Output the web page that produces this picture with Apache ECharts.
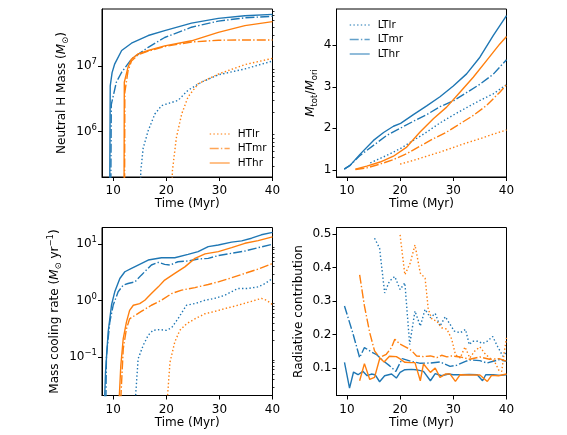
<!DOCTYPE html>
<html>
<head>
<meta charset="utf-8">
<script src="https://cdn.jsdelivr.net/npm/echarts@6/dist/echarts.min.js"></script>
<style>
  html, body { margin: 0; padding: 0; background: #fff; }
  #chart { width: 567px; height: 435px; }
</style>
</head>
<body>
<div id="chart"></div>
<script>
// neutral H mass (Msun) vs time (Myr)
const massLTlr = [[15.1, 1e5], [15.2, 2.5e5], [15.65, 5.6e5], [16.6, 1.04e6], [17.85, 1.86e6], [19.1, 2.5e6], [20.7, 2.75e6], [22.2, 3.0e6], [24.1, 4.3e6], [26.6, 5.7e6], [29.8, 7.4e6], [34.8, 9.1e6], [40, 1.2e7]];
const massLTmr = [[9.55, 1e5], [9.65, 2.6e6], [10.6, 5.7e6], [11.6, 8.1e6], [13.45, 1.29e7], [16.6, 1.95e7], [19.7, 2.75e7], [24.75, 3.95e7], [29.8, 4.9e7], [34.8, 5.5e7], [40, 5.8e7]];
const massLThr = [[9.35, 1e5], [9.45, 5.0e6], [9.8, 8.0e6], [10.3, 1.09e7], [11.6, 1.74e7], [13.45, 2.25e7], [16.6, 2.95e7], [19.7, 3.5e7], [24.75, 4.56e7], [29.8, 5.4e7], [34.8, 5.9e7], [40, 6.2e7]];
const massHTlr = [[21.05, 1e5], [21.15, 2.5e5], [21.9, 8.1e5], [22.9, 1.86e6], [24.1, 3.4e6], [26, 5.4e6], [29.8, 7.6e6], [34.8, 1.06e7], [40, 1.32e7]];
const massHTmr = [[12.15, 1e5], [12.2, 4.0e6], [12.8, 8.5e6], [13.45, 1.2e7], [14.7, 1.5e7], [16.6, 1.7e7], [19.7, 2.0e7], [24.75, 2.35e7], [29.8, 2.5e7], [34.8, 2.52e7], [40, 2.52e7]];
const massHThr = [[12.05, 1e5], [12.1, 5.7e6], [12.8, 9.7e6], [13.45, 1.29e7], [14.7, 1.55e7], [16.6, 1.74e7], [19.7, 2.05e7], [24.75, 2.45e7], [29.8, 3.3e7], [34.8, 4.17e7], [40, 4.8e7]];

// total / original mass
const ratioLTlr = [[14.4, 1.17], [17.5, 1.35], [20, 1.51], [22.5, 1.71], [25, 1.91], [27.5, 2.13], [30, 2.32], [32.5, 2.5], [35, 2.67], [37.5, 2.83], [40, 3.05]];
const ratioLTmr = [[9.5, 1.02], [10.6, 1.11], [12.5, 1.35], [15, 1.59], [17.5, 1.83], [20, 2.0], [22.5, 2.17], [25, 2.33], [27.5, 2.52], [30, 2.66], [32.5, 2.86], [35, 3.06], [37.5, 3.3], [40, 3.65]];
const ratioLThr = [[9.5, 1.02], [10.6, 1.11], [12.5, 1.38], [15, 1.71], [16.9, 1.9], [18.75, 2.05], [20.1, 2.12], [22.5, 2.33], [25, 2.54], [27.5, 2.76], [30, 3.02], [32.5, 3.31], [35, 3.71], [37.5, 4.23], [40, 4.71]];
const ratioHTlr = [[20, 1.14], [22.5, 1.23], [25, 1.33], [27.5, 1.43], [30, 1.54], [32.5, 1.65], [35, 1.75], [37.5, 1.86], [40, 1.96]];
const ratioHTmr = [[11.6, 1.01], [13.75, 1.05], [16.25, 1.14], [18.75, 1.25], [21.25, 1.39], [23.75, 1.57], [26.25, 1.75], [28.75, 1.91], [31.25, 2.11], [33.75, 2.31], [36.25, 2.55], [38.75, 2.87], [40, 3.05]];
const ratioHThr = [[11.6, 1.02], [13.75, 1.09], [16.25, 1.19], [18.75, 1.33], [21.25, 1.55], [23.75, 1.91], [26.25, 2.23], [28.75, 2.51], [31.25, 2.87], [33.75, 3.23], [36.25, 3.63], [38.75, 4.03], [40, 4.21]];

// mass cooling rate (Msun/yr)
const coolLTlr = [[14.0, 0.01], [14.7, 0.0933], [15.65, 0.162], [16.6, 0.245], [17.5, 0.299], [18.8, 0.309], [20, 0.299], [21, 0.331], [22.2, 0.479], [23.8, 0.832], [25.4, 0.891], [27.3, 1.02], [29.1, 1.10], [31, 1.25], [33.5, 1.65], [35.4, 1.65], [37.3, 1.76], [38.6, 2.02], [40, 2.48]];
const coolLTmr = [[8.6, 0.01], [8.74, 0.107], [9.37, 0.42], [10, 0.83], [10.94, 1.44], [11.9, 1.89], [12.8, 2.02], [14.1, 2.16], [15.3, 2.84], [17.2, 4.29], [18.5, 4.79], [19.7, 4.41], [20.7, 4.29], [22.2, 4.9], [24.1, 5.05], [26, 5.48], [27.9, 5.62], [29.8, 6.31], [32.3, 6.92], [34.8, 7.59], [37.3, 8.71], [40, 10.0]];
const coolLThr = [[8.3, 0.01], [8.56, 0.0537], [9.06, 0.279], [9.7, 0.85], [10.3, 1.44], [11.26, 2.48], [12.2, 3.26], [13.45, 3.74], [14.7, 4.29], [16.6, 5.25], [19.1, 5.78], [21.6, 5.78], [24.1, 6.61], [26, 7.41], [27.9, 9.08], [29.8, 9.72], [32.3, 10.9], [34.2, 11.5], [36.05, 12.8], [37.9, 14.7], [40, 16.2]];
const coolHTlr = [[20.0, 0.01], [20.7, 0.0813], [21.6, 0.186], [22.55, 0.299], [23.8, 0.389], [25.4, 0.479], [27.3, 0.589], [29.1, 0.646], [31, 0.724], [33.5, 0.832], [36.05, 0.977], [37.9, 1.10], [38.9, 1.02], [40, 0.851]];
const coolHTmr = [[11.3, 0.01], [11.9, 0.141], [12.5, 0.316], [13.1, 0.479], [14.1, 0.55], [15.3, 0.646], [17.2, 0.832], [19.1, 1.02], [21, 1.34], [22.9, 1.54], [25.4, 1.71], [27.9, 1.94], [29.8, 2.16], [32.3, 2.55], [34.8, 3.05], [37.3, 3.63], [40, 4.57]];
const coolHThr = [[11.0, 0.01], [11.44, 0.0708], [11.9, 0.214], [12.5, 0.417], [13.1, 0.676], [13.8, 0.832], [15.0, 0.891], [15.96, 1.02], [17.2, 1.34], [18.5, 1.76], [19.7, 2.32], [21.6, 3.05], [23.5, 3.98], [25.4, 5.62], [27.3, 6.76], [29.8, 7.41], [32.3, 8.71], [34.8, 10.4], [37.3, 11.6], [40, 13.5]];

// radiative contribution
const radLTlr = [[15.2, 0.487], [16.15, 0.457], [17.1, 0.324], [18, 0.359], [19, 0.373], [20, 0.334], [20.9, 0.354], [21.8, 0.17], [22.8, 0.27], [23.8, 0.225], [24.7, 0.275], [25.7, 0.25], [26.6, 0.263], [27.5, 0.225], [28.5, 0.253], [29.4, 0.23], [30.2, 0.21], [31.3, 0.205], [32.3, 0.215], [33, 0.17], [33.6, 0.18], [34.6, 0.18], [35.5, 0.173], [36.4, 0.18], [37.4, 0.194], [38.3, 0.165], [39.3, 0.135], [40, 0.148]];
const radLTmr = [[9.55, 0.285], [11.1, 0.205], [12.4, 0.131], [13.3, 0.161], [14.6, 0.148], [15.5, 0.141], [16.8, 0.122], [18, 0.107], [19.2, 0.09], [20.4, 0.128], [22.1, 0.12], [23.8, 0.114], [25.7, 0.115], [27.5, 0.118], [29.4, 0.105], [30.6, 0.108], [32.3, 0.12], [33.1, 0.124], [35, 0.122], [36.3, 0.115], [37.5, 0.12], [38.6, 0.125], [40, 0.12]];
const radLThr = [[9.55, 0.117], [10.5, 0.04], [11.25, 0.088], [12.1, 0.08], [13.0, 0.09], [13.8, 0.077], [14.6, 0.082], [15.3, 0.08], [16.15, 0.059], [17.1, 0.077], [18.4, 0.082], [19.3, 0.07], [20, 0.087], [20.9, 0.095], [22.1, 0.096], [23, 0.095], [24.4, 0.09], [25.7, 0.062], [26.6, 0.083], [27.8, 0.077], [29.1, 0.082], [30, 0.08], [31.5, 0.08], [33, 0.081], [34.5, 0.08], [35.5, 0.062], [36.1, 0.08], [37.5, 0.08], [38.75, 0.078], [40, 0.08]];
const radHTlr = [[20, 0.497], [20.9, 0.378], [21.9, 0.413], [22.8, 0.467], [23.8, 0.383], [24.7, 0.368], [25.3, 0.275], [26, 0.245], [26.9, 0.24], [27.8, 0.22], [28.8, 0.216], [29.7, 0.186], [30.4, 0.14], [31.3, 0.13], [32.2, 0.163], [33.1, 0.13], [34, 0.15], [35, 0.163], [35.9, 0.144], [36.8, 0.13], [37.7, 0.121], [38.6, 0.092], [39.1, 0.09], [39.6, 0.15], [40, 0.19]];
const radHTmr = [[12.4, 0.378], [13.3, 0.285], [14.3, 0.205], [15.2, 0.151], [16.15, 0.131], [17.4, 0.141], [18.4, 0.161], [19.0, 0.186], [20, 0.171], [21.25, 0.161], [22.2, 0.151], [23.1, 0.136], [24.4, 0.134], [25.7, 0.136], [26.9, 0.131], [27.8, 0.138], [28.8, 0.133], [29.7, 0.136], [31.3, 0.133], [33.1, 0.126], [35, 0.133], [36.8, 0.126], [38.6, 0.128], [40, 0.12]];
const radHThr = [[12.4, 0.062], [13.3, 0.113], [14.3, 0.066], [15.2, 0.072], [16.2, 0.13], [17.0, 0.118], [18, 0.135], [19.3, 0.134], [20, 0.127], [20.9, 0.117], [22, 0.116], [22.8, 0.116], [23.8, 0.062], [24.4, 0.112], [25.7, 0.087], [26.6, 0.1], [27.5, 0.072], [28.5, 0.082], [29.4, 0.082], [30.4, 0.06], [31.3, 0.08], [33, 0.079], [35, 0.079], [36.4, 0.06], [37.2, 0.078], [38.5, 0.077], [40, 0.082]];

// ticks
const timeTicks = [10, 20, 30, 40];
const massTicks = [1e6, 1e7];
const massMinor = [3e5, 4e5, 5e5, 6e5, 7e5, 8e5, 9e5, 2e6, 3e6, 4e6, 5e6, 6e6, 7e6, 8e6, 9e6, 2e7, 3e7, 4e7, 5e7, 6e7, 7e7];
const ratioTicks = [1, 2, 3, 4];
const coolTicks = [0.1, 1, 10];
const coolMinor = [0.03, 0.04, 0.05, 0.06, 0.07, 0.08, 0.09, 0.2, 0.3, 0.4, 0.5, 0.6, 0.7, 0.8, 0.9, 2, 3, 4, 5, 6, 7, 8, 9];
const radTicks = [0.1, 0.2, 0.3, 0.4, 0.5];

const BLUE = '#1f77b4';
const ORANGE = '#ff7f0e';
const FONT = 'DejaVu Sans';
const FS = 12;
const DOT = [1.4, 2.3];
const DASHDOT = [9, 2.2, 1.4, 2.2];

const chart = echarts.init(document.getElementById('chart'));

const grids = [
  { left: 102, top: 9, width: 170.5, height: 168 },
  { left: 336.5, top: 9, width: 170, height: 168 },
  { left: 102, top: 227.5, width: 170.5, height: 168 },
  { left: 336.5, top: 227.5, width: 170, height: 168 }
].map(g => Object.assign(g, { show: true, borderColor: '#000', borderWidth: 1, backgroundColor: 'transparent' }));

const labelStyle = { color: '#000', fontSize: FS, fontFamily: FONT };
const nameStyle = {
  color: '#000', fontSize: FS, fontFamily: FONT, lineHeight: 17,
  rich: {
    i: { fontStyle: 'italic', fontSize: FS, fontFamily: FONT, lineHeight: 17, color: '#000' },
    s: { fontSize: 8.5, fontFamily: FONT, lineHeight: 10, verticalAlign: 'bottom', color: '#000' },
    p: { fontSize: 8.5, fontFamily: FONT, lineHeight: 10, verticalAlign: 'top', color: '#000' }
  }
};

function powLabel(v) {
  const e = Math.round(Math.log10(v));
  return '{b|10}{s|' + String(e).replace('-', '\u2212') + '}';
}
const powRich = {
  b: { fontSize: FS, fontFamily: FONT, lineHeight: 17, color: '#000' },
  s: { fontSize: 8.5, fontFamily: FONT, lineHeight: 10, verticalAlign: 'top', color: '#000' }
};

const xAxes = [0, 1, 2, 3].map(i => ({
  type: 'value', gridIndex: i, min: i % 2 === 0 ? 7.9 : 8.05, max: 40,
  name: 'Time (Myr)', nameLocation: 'middle', nameGap: 21,
  nameTextStyle: { color: '#000', fontSize: FS, fontFamily: FONT },
  axisLine: { show: true, lineStyle: { color: '#000', width: 1 } },
  axisTick: { show: true, length: 4, customValues: timeTicks, lineStyle: { color: '#000' } },
  axisLabel: Object.assign({ margin: 8, customValues: timeTicks }, labelStyle),
  splitLine: { show: false }
}));

function yBase(i, extra) {
  return Object.assign({
    gridIndex: i, nameLocation: 'middle', nameTextStyle: nameStyle,
    axisLine: { show: true, lineStyle: { color: '#000', width: 1 } },
    splitLine: { show: false }
  }, extra);
}

const yAxes = [
  yBase(0, {
    type: 'log', logBase: 10, min: 2.03e5, max: 7.5e7,
    name: 'Neutral H Mass ({i|M}{s|\u2299})', nameGap: 32,
    axisTick: { length: 4, customValues: massTicks, lineStyle: { color: '#000' } },
    axisLabel: Object.assign({ margin: 5, customValues: massTicks, formatter: powLabel, rich: powRich }, labelStyle)
  }),
  yBase(1, {
    type: 'value', min: 0.83, max: 4.87,
    name: '{i|M}{s|tot}/{i|M}{s|ori}', nameGap: 17,
    axisTick: { length: 4, customValues: ratioTicks, lineStyle: { color: '#000' } },
    axisLabel: Object.assign({ margin: 5, customValues: ratioTicks }, labelStyle)
  }),
  yBase(2, {
    type: 'log', logBase: 10, min: 0.021, max: 19.8,
    name: 'Mass cooling rate ({i|M}{s|\u2299} yr{p|\u22121})', nameGap: 39,
    axisTick: { length: 4, customValues: coolTicks, lineStyle: { color: '#000' } },
    axisLabel: Object.assign({ margin: 5, customValues: coolTicks, formatter: powLabel, rich: powRich }, labelStyle)
  }),
  yBase(3, {
    type: 'value', min: 0.018, max: 0.519,
    name: 'Radiative contribution', nameGap: 29,
    axisTick: { length: 4, customValues: radTicks, lineStyle: { color: '#000' } },
    axisLabel: Object.assign({ margin: 5, customValues: radTicks, formatter: v => v.toFixed(1) }, labelStyle)
  }),
  // minor ticks on the log axes
  { type: 'log', logBase: 10, gridIndex: 0, min: 2.03e5, max: 7.5e7,
    axisLine: { show: false }, splitLine: { show: false },
    axisTick: { show: true, length: 2, customValues: massMinor, lineStyle: { color: '#000', width: 0.8 } },
    axisLabel: { show: false, customValues: massMinor } },
  { type: 'log', logBase: 10, gridIndex: 2, min: 0.021, max: 19.8,
    axisLine: { show: false }, splitLine: { show: false },
    axisTick: { show: true, length: 2, customValues: coolMinor, lineStyle: { color: '#000', width: 0.8 } },
    axisLabel: { show: false, customValues: coolMinor } }
];

function line(name, data, panel) {
  const color = name.startsWith('LT') ? BLUE : ORANGE;
  const kind = name.slice(2);
  const type = kind === 'lr' ? DOT : kind === 'mr' ? DASHDOT : 'solid';
  return {
    name, type: 'line', data, xAxisIndex: panel, yAxisIndex: panel,
    symbol: 'none', showSymbol: false, clip: true, animation: false,
    color, lineStyle: { color, width: 1.4, type }
  };
}

const series = [
  line('LTlr', massLTlr, 0), line('LTmr', massLTmr, 0), line('LThr', massLThr, 0),
  line('HTlr', massHTlr, 0), line('HTmr', massHTmr, 0), line('HThr', massHThr, 0),
  line('LTlr', ratioLTlr, 1), line('LTmr', ratioLTmr, 1), line('LThr', ratioLThr, 1),
  line('HTlr', ratioHTlr, 1), line('HTmr', ratioHTmr, 1), line('HThr', ratioHThr, 1),
  line('LTlr', coolLTlr, 2), line('LTmr', coolLTmr, 2), line('LThr', coolLThr, 2),
  line('HTlr', coolHTlr, 2), line('HTmr', coolHTmr, 2), line('HThr', coolHThr, 2),
  line('LTlr', radLTlr, 3), line('LTmr', radLTmr, 3), line('LThr', radLThr, 3),
  line('HTlr', radHTlr, 3), line('HTmr', radHTmr, 3), line('HThr', radHThr, 3)
];

const legendCommon = {
  orient: 'vertical', itemWidth: 20, itemHeight: 12, itemGap: 2.5, padding: 0,
  selectedMode: false,
  textStyle: { color: '#000', fontSize: 10.5, fontFamily: FONT, lineHeight: 12, padding: [0, 0, 0, 3] },
  itemStyle: { opacity: 0 },
  lineStyle: { opacity: 0.7, width: 1.4 }
};

const option = {
  animation: false,
  grid: grids,
  xAxis: xAxes,
  yAxis: yAxes,
  legend: [
    Object.assign({ data: ['HTlr', 'HTmr', 'HThr'], left: 209, top: 128 }, legendCommon),
    Object.assign({ data: ['LTlr', 'LTmr', 'LThr'], left: 349, top: 19 }, legendCommon)
  ],
  series
};

chart.setOption(option);
</script>
</body>
</html>
